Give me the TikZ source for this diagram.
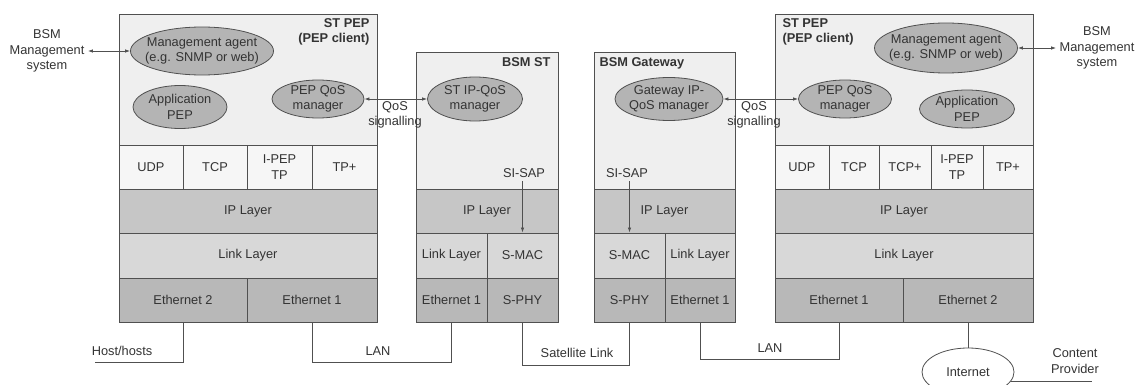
\documentclass[tikz,border=0pt]{standalone}
\usepackage{fontspec}
\setmainfont{Liberation Sans}
\usetikzlibrary{shapes.geometric,arrows.meta}
\definecolor{topgray}{HTML}{EFEFEF}
\definecolor{tpgray}{HTML}{F6F6F6}
\definecolor{ipgray}{HTML}{C6C6C6}
\definecolor{linkgray}{HTML}{D8D8D8}
\definecolor{ethgray}{HTML}{B8B8B8}
\definecolor{mgrgray}{HTML}{B4B4B4}
\definecolor{edge}{HTML}{505050}
\definecolor{txt}{HTML}{333333}
\tikzset{
  cell/.style={draw=edge,line width=0.9pt,inner sep=0pt,align=center},
  mgr/.style={ellipse,draw=edge,line width=0.8pt,fill=mgrgray,align=center,inner xsep=-18pt,inner ysep=-6pt},
  sig/.style={{Latex[length=5pt,width=3.5pt]}-{Latex[length=5pt,width=3.5pt]},line width=0.8pt,draw=edge},
  wire/.style={draw=edge,line width=0.8pt},
  title/.style={font=\fontsize{12.8}{15.5}\selectfont\bfseries}
}
\begin{document}
\begin{tikzpicture}[x=1pt,y=-1pt,every node/.style={font=\fontsize{12.8}{15.5}\selectfont,text=txt}]
\useasboundingbox (0,0) rectangle (1137,385);
% Left ST PEP
\node[cell,fill=topgray,minimum width=258,minimum height=131] (lTop) at (248,79.5) {};
\foreach \name/\cx/\w/\lbl in {lUDP/151/64/UDP,lTCP/215/64/TCP,lIPEP/279.5/65/{I-PEP\\TP},lTPp/344.5/65/TP+}
  \node[cell,fill=tpgray,minimum width=\w,minimum height=44] (\name) at (\cx,167) {\lbl};
\node[cell,fill=ipgray,minimum width=258,minimum height=44] (lIP) at (248,211) {IP Layer};
\node[cell,fill=linkgray,minimum width=258,minimum height=45] (lLink) at (248,255.5) {Link Layer};
\node[cell,fill=ethgray,minimum width=128,minimum height=44] (lEth2) at (183,300) {Ethernet 2};
\node[cell,fill=ethgray,minimum width=130,minimum height=44] (lEth1) at (312,300) {Ethernet 1};
\node[title,anchor=north east,align=right] (lTitle) at (373,15) {ST PEP\\(PEP client)};
\node[mgr,minimum width=143,minimum height=48] (lMgmt) at (202,51) {Management agent\\(e.g. SNMP or web)};
\node[mgr,minimum width=94,minimum height=43] (lApp) at (180,107) {Application\\PEP};
\node[mgr,minimum width=92,minimum height=38] (lQoS) at (318,99) {PEP QoS\\manager};
% BSM ST
\node[cell,fill=topgray,minimum width=142,minimum height=137] (sTop) at (487,120.5) {};
\node[cell,fill=ipgray,minimum width=142,minimum height=44] (sIP) at (487,211) {IP Layer};
\node[cell,fill=linkgray,minimum width=71,minimum height=45] (sLink) at (451.5,255.5) {Link Layer};
\node[cell,fill=linkgray,minimum width=71,minimum height=45] (sMAC) at (522.5,255.5) {S-MAC};
\node[cell,fill=ethgray,minimum width=71,minimum height=44] (sEth1) at (451.5,300) {Ethernet 1};
\node[cell,fill=ethgray,minimum width=71,minimum height=44] (sPHY) at (522.5,300) {S-PHY};
\node[title,anchor=north east] (sTitle) at (554,54) {BSM ST};
\node[mgr,minimum width=95,minimum height=44] (stQoS) at (475,99) {ST IP-QoS\\manager};
\node (sisapL) at (524,173) {SI-SAP};
% BSM Gateway
\node[cell,fill=topgray,minimum width=141,minimum height=137] (gTop) at (664.5,120.5) {};
\node[cell,fill=ipgray,minimum width=141,minimum height=44] (gIP) at (664.5,211) {IP Layer};
\node[cell,fill=linkgray,minimum width=71,minimum height=45] (gMAC) at (629.5,255.5) {S-MAC};
\node[cell,fill=linkgray,minimum width=70,minimum height=45] (gLink) at (700,255.5) {Link Layer};
\node[cell,fill=ethgray,minimum width=71,minimum height=44] (gPHY) at (629.5,300) {S-PHY};
\node[cell,fill=ethgray,minimum width=70,minimum height=44] (gEth1) at (700,300) {Ethernet 1};
\node[title,anchor=north west] (gTitle) at (596,54) {BSM Gateway};
\node[mgr,minimum width=108,minimum height=43] (gwQoS) at (669,99) {Gateway IP-\\QoS manager};
\node (sisapR) at (627,173) {SI-SAP};
% Right ST PEP
\node[cell,fill=topgray,minimum width=258,minimum height=131] (rTop) at (904,79.5) {};
\foreach \name/\cx/\w/\lbl in {rUDP/802/54/UDP,rTCP/854/50/TCP,rTCPp/905/52/TCP+,rIPEP/957/52/{I-PEP\\TP},rTPp/1008/50/TP+}
  \node[cell,fill=tpgray,minimum width=\w,minimum height=44] (\name) at (\cx,167) {\lbl};
\node[cell,fill=ipgray,minimum width=258,minimum height=44] (rIP) at (904,211) {IP Layer};
\node[cell,fill=linkgray,minimum width=258,minimum height=45] (rLink) at (904,255.5) {Link Layer};
\node[cell,fill=ethgray,minimum width=128,minimum height=44] (rEth1) at (839,300) {Ethernet 1};
\node[cell,fill=ethgray,minimum width=130,minimum height=44] (rEth2) at (968,300) {Ethernet 2};
\node[title,anchor=north west,align=left] (rTitle) at (779,15) {ST PEP\\(PEP client)};
\node[mgr,minimum width=143,minimum height=50] (rMgmt) at (946,48) {Management agent\\(e.g. SNMP or web)};
\node[mgr,minimum width=93,minimum height=38] (rQoS) at (845,99) {PEP QoS\\manager};
\node[mgr,minimum width=95,minimum height=38] (rApp) at (967,109) {Application\\PEP};
% Outside labels
\node[align=center] (bsmL) at (47,51) {BSM\\Management\\system};
\node[align=center] (bsmR) at (1097,48) {BSM\\Management\\system};
\node[align=center] (qosL) at (395,115) {QoS\\signalling};
\node[align=center] (qosR) at (754,115) {QoS\\signalling};
\node (host) at (122,351) {Host/hosts};
\node (lanL) at (378,351) {LAN};
\node (sat) at (577,353) {Satellite Link};
\node (lanR) at (770,348) {LAN};
\node[align=center] (cprov) at (1075,361) {Content\\Provider};
\node[ellipse,draw=edge,line width=0.8pt,fill=white,inner sep=0pt,minimum width=92,minimum height=48] (inet) at (968,372) {Internet};
\coordinate (hostEnd) at (95,362);
\coordinate (cpEnd) at (1092,377);
% Signalling arrows
\draw[sig] (bsmL.east) -- (lMgmt.west);
\draw[sig] (lQoS.east) -- (stQoS.west);
\draw[sig] (gwQoS.east) -- (rQoS.west);
\draw[sig] (rMgmt.east) -- (bsmR.west);
\draw[wire,-{Latex[length=5pt,width=3.5pt]}] (sisapL.south -| sMAC.north) -- (sMAC.north);
\draw[wire,-{Latex[length=5pt,width=3.5pt]}] (sisapR.south -| gMAC.north) -- (gMAC.north);
% Links below
\draw[wire] (lEth2.south) |- (hostEnd);
\draw[wire] (lEth1.south) -- ++(0,40) -| (sEth1.south);
\draw[wire] (sPHY.south) -- ++(0,43) -| (gPHY.south);
\draw[wire] (gEth1.south) -- ++(0,37) -| (rEth1.south);
\draw[wire] (rEth2.south) -- (inet.north);
\draw[wire] (inet.-12) -- (inet.-12 -| cpEnd);
\end{tikzpicture}
\end{document}
